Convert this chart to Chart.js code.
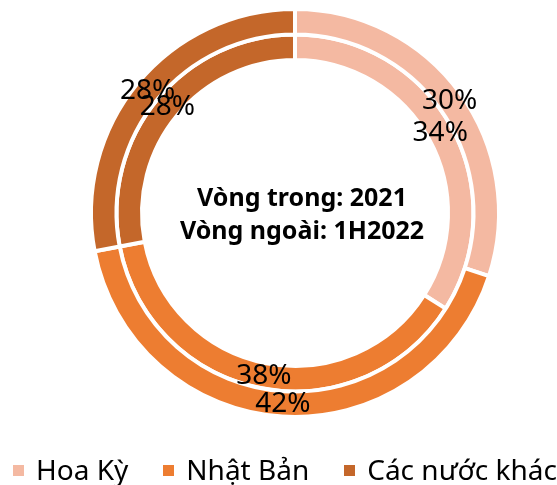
<!DOCTYPE html>
<html>
<head>
<meta charset="utf-8">
<script src="https://cdn.jsdelivr.net/npm/chart.js@4"></script>
<style>
  html, body { margin: 0; padding: 0; background: #ffffff; overflow: hidden; }
  #wrap { position: relative; width: 557px; height: 485px; }
  #chart { position: absolute; left: 0; top: 0; }
  #legend {
    position: absolute; left: 13px; top: 455px;
    display: flex; align-items: center;
    font-family: 'Noto Sans', sans-serif; font-size: 28px; line-height: 28px;
    color: #000000; white-space: nowrap;
  }
  #legend .item { display: flex; align-items: center; margin-right: 35px; }
  #legend .box { width: 11px; height: 11px; margin-right: 12px; margin-top: 3px; }
</style>
</head>
<body>
<div id="wrap">
  <canvas id="chart" width="557" height="485"></canvas>
  <div id="legend"></div>
</div>
<script>
// market share by destination
var categories = ["Hoa Kỳ", "Nhật Bản", "Các nước khác"];
var outer_values = [30, 42, 28]; // 1H2022
var inner_values = [34, 38, 28]; // 2021
var center_lines = ["Vòng trong: 2021", "Vòng ngoài: 1H2022"];
var colors = ["#F4B9A2", "#ED7D31", "#C4672A"];

var fontName = "'Noto Sans', 'Open Sans', sans-serif";

// draw percent labels at the middle of each arc
var percentLabels = {
    id: "percentLabels",
    afterDatasetsDraw: function (chart) {
        var ctx = chart.ctx;
        ctx.save();
        ctx.font = "28px " + fontName;
        ctx.fillStyle = "#000000";
        ctx.textAlign = "center";
        ctx.textBaseline = "middle";
        chart.data.datasets.forEach(function (ds, di) {
            var meta = chart.getDatasetMeta(di);
            meta.data.forEach(function (arc, i) {
                var p = arc.getCenterPoint();
                ctx.fillText(ds.data[i] + "%", p.x, p.y);
            });
        });
        ctx.restore();
    }
};

// text in the hole
var centerText = {
    id: "centerText",
    afterDraw: function (chart) {
        var ctx = chart.ctx;
        var meta = chart.getDatasetMeta(0);
        var cx = meta.data[0].x;
        var cy = meta.data[0].y;
        ctx.save();
        ctx.font = "bold 25px " + fontName;
        ctx.fillStyle = "#000000";
        ctx.textAlign = "center";
        ctx.textBaseline = "alphabetic";
        ctx.fillText(center_lines[0], cx + 7, cy - 7);
        ctx.fillText(center_lines[1], cx + 7, cy + 26);
        ctx.restore();
    }
};

var chart = new Chart(document.getElementById("chart"), {
    type: "doughnut",
    data: {
        labels: categories,
        datasets: [
            {
                label: "1H2022",
                data: outer_values,
                backgroundColor: colors,
                borderColor: "#ffffff",
                borderWidth: 4,
                hoverOffset: 0
            },
            {
                label: "2021",
                data: inner_values,
                backgroundColor: colors,
                borderColor: "#ffffff",
                borderWidth: 4,
                hoverOffset: 0
            }
        ]
    },
    options: {
        responsive: false,
        animation: false,
        cutout: "75%",
        layout: { padding: { top: 7, left: 33, right: 0, bottom: 66 } },
        plugins: {
            tooltip: { enabled: false },
            legend: { display: false }
        }
    },
    plugins: [percentLabels, centerText]
});

// html legend under the canvas
var legend = document.getElementById("legend");
categories.forEach(function (name, i) {
    var item = document.createElement("div");
    item.className = "item";
    var box = document.createElement("span");
    box.className = "box";
    box.style.background = colors[i];
    var txt = document.createElement("span");
    txt.textContent = name;
    item.appendChild(box);
    item.appendChild(txt);
    legend.appendChild(item);
});
</script>
</body>
</html>
